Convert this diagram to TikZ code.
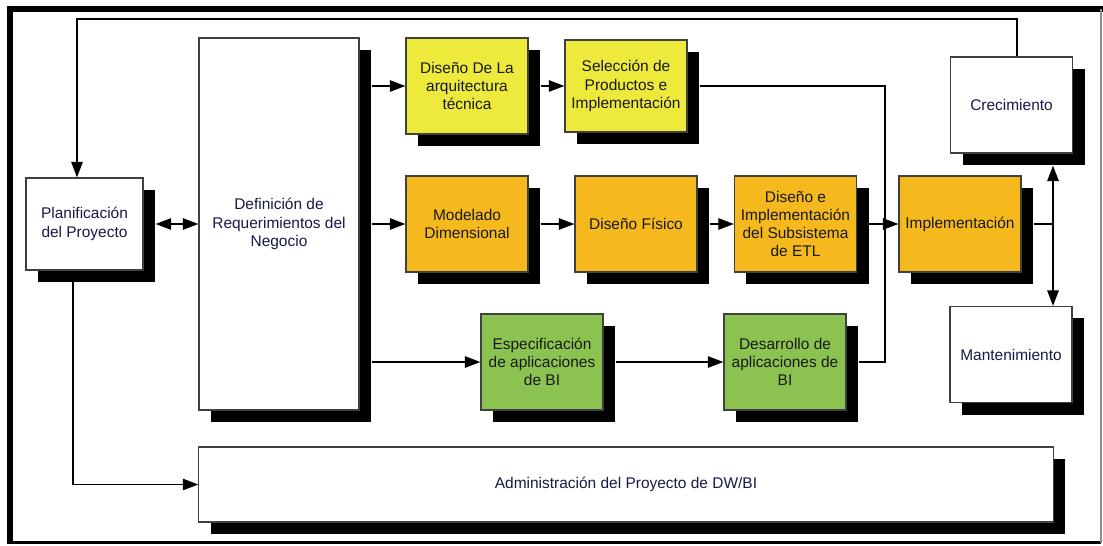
\documentclass[tikz,border=0pt]{standalone}
\usepackage{fontspec}
\setmainfont{Liberation Sans}
\usetikzlibrary{arrows.meta, positioning, calc, shadows}
\definecolor{kimyellow}{RGB}{238, 234, 60}
\definecolor{kimorange}{RGB}{245, 185, 30}
\definecolor{kimgreen}{RGB}{140, 195, 80}
\definecolor{kimtext}{RGB}{25, 25, 70}

\begin{document}
\begin{tikzpicture}[
  x=0.025cm, y=-0.025cm,
  box/.style={draw=black!75, line width=0.8pt, align=center, inner sep=2pt, font=\fontsize{11}{13}\selectfont, minimum width=3.05cm, minimum height=2.4cm, drop shadow={shadow xshift=0.3cm, shadow yshift=-0.3cm, fill=black, opacity=1}},
  wbox/.style={box, fill=white, text=kimtext},
  ybox/.style={box, fill=kimyellow, text=black!90},
  obox/.style={box, fill=kimorange, text=black!90},
  gbox/.style={box, fill=kimgreen, text=black!90},
  conn/.style={line width=1.3pt},
  arr/.style={conn, -{Triangle[length=11pt, width=8pt]}},
  darr/.style={conn, {Triangle[length=11pt, width=8pt]}-{Triangle[length=11pt, width=8pt]}}
]
  \useasboundingbox (0,0) rectangle (1103,545);
  % frame
  \draw[line width=4.5pt] (10,544) -- (10,9) -- (1103,9);
  \draw[line width=2pt] (8,542.5) -- (1101,542.5);
  \draw[black!45, line width=0.8pt] (1101,9) -- (1101,543);

  % boxes
  \node[wbox, minimum width=2.925cm, minimum height=2.3cm] (plan) at (84.5,224) {Planificación\\del Proyecto};
  \node[wbox, minimum width=4cm, minimum height=9.3cm] (def) at (279,224) {Definición de\\Requerimientos del\\Negocio};
  \node[ybox] (arq) at (467,86) {Diseño De La\\arquitectura\\técnica};
  \node[ybox, minimum height=2.3cm] (sel) at (626,86) {Selección de\\Productos e\\Implementación};
  \node[obox] (mod) at (467,224) {Modelado\\Dimensional};
  \node[obox] (fis) at (636,224) {Diseño Físico};
  \node[obox] (etl) at (795.5,224) {Diseño e\\Implementación\\del Subsistema\\de ETL};
  \node[obox] (imp) at (960,224) {Implementación};
  \node[wbox] (crec) at (1011.5,105) {Crecimiento};
  \node[wbox] (mant) at (1011,354.5) {Mantenimiento};
  \node[gbox] (esp) at (542,362) {Especificación\\de aplicaciones\\de BI};
  \node[gbox] (desa) at (785,362) {Desarrollo de\\aplicaciones de\\BI};
  \node[wbox, minimum width=21.35cm, minimum height=1.875cm] (adm) at (626,484.5) {Administración del Proyecto de DW/BI};

  % connectors
  \coordinate (defr) at ([xshift=0.3cm]def.east);
  \coordinate (tl) at (77,19);
  \coordinate (jn) at (885,224);
  \coordinate (jr) at (1053,224);
  \draw[arr] ([xshift=0.14cm]crec.north) |- (tl) -- (tl |- plan.north);
  \draw[darr] ([xshift=0.3cm]plan.east) -- (def.west);
  \draw[arr] ([xshift=-0.28cm]plan.south) |- (adm.west);
  \draw[arr] (defr |- arq.west) -- (arq.west);
  \draw[arr] (defr |- mod.west) -- (mod.west);
  \draw[arr] (defr |- esp.west) -- (esp.west);
  \draw[arr] ([xshift=0.3cm]arq.east) -- (sel.west);
  \draw[arr] ([xshift=0.3cm]mod.east) -- (fis.west);
  \draw[arr] ([xshift=0.3cm]fis.east) -- (etl.west);
  \draw[arr] ([xshift=0.3cm]esp.east) -- (desa.west);
  \draw[conn] ([xshift=0.3cm]sel.east) -| (jn);
  \draw[conn] ([xshift=0.3cm]desa.east) -| (jn);
  \draw[arr] ([xshift=0.3cm]etl.east) -- (imp.west);
  \draw[conn] ([xshift=0.3cm]imp.east) -- (jr);
  \draw[darr] ([yshift=-0.3cm]crec.south -| jr) -- (mant.north -| jr);
\end{tikzpicture}
\end{document}
